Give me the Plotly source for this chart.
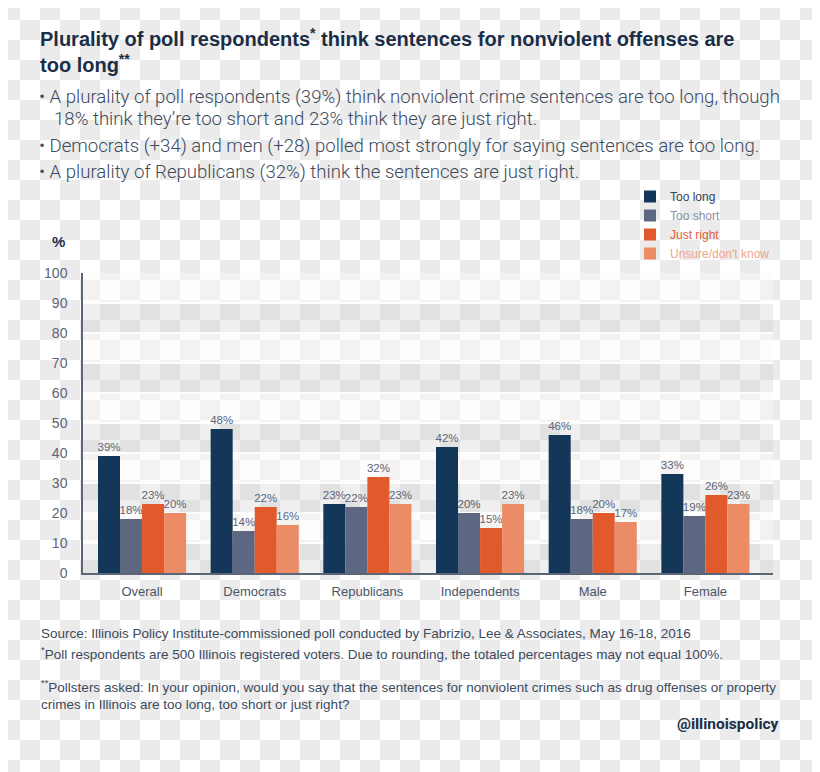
import zlib, struct, base64
import plotly.graph_objects as go

# ---------------- data ----------------
categories = ["Overall", "Democrats", "Republicans", "Independents", "Male", "Female"]
too_long = [39, 48, 23, 42, 46, 33]
too_short = [18, 14, 22, 20, 18, 19]
just_right = [23, 22, 32, 15, 20, 26]
unsure = [20, 16, 23, 23, 17, 23]
series_names = ["Too long", "Too short", "Just right", "Unsure/don't know"]
y_ticks = [0, 10, 20, 30, 40, 50, 60, 70, 80, 90, 100]

# ---------------- style ----------------
OFF = 8                      # page body margin
W, H = 820 - OFF, 772 - OFF
L, R, T, B = 83 - OFF, 47, 273 - OFF, 199
bar_colors = ["#143659", "#5e6781", "#e05a2c", "#eb8c67"]
legend_text_colors = ["#34435a", "#8a91a3", "#e0603a", "#eda58a"]
dark = "#1b2e47"
body = "#3c4a5c"
tick_col = "#5b6478"
SANS = "Liberation Sans, Arial, sans-serif"
ROBOTO = "Roboto, Liberation Sans, sans-serif"


def checker_png(w, h, cell, off, c_even, c_odd):
    raw = bytearray()
    for yy in range(h):
        r = (yy + off) // cell
        row = bytearray([0])
        for xx in range(w):
            c = c_even if (((xx + off) // cell) + r) % 2 == 0 else c_odd
            row += bytes(c)
        raw += row

    def chunk(tag, data):
        return struct.pack(">I", len(data)) + tag + data + struct.pack(">I", zlib.crc32(tag + data) & 0xffffffff)
    png = b"\x89PNG\r\n\x1a\n" + chunk(b"IHDR", struct.pack(">IIBBBBB", w, h, 8, 2, 0, 0, 0))
    png += chunk(b"IDAT", zlib.compress(bytes(raw), 9)) + chunk(b"IEND", b"")
    return "data:image/png;base64," + base64.b64encode(png).decode()


def px(x_page):
    return (x_page - OFF - L) / (W - L - R)


def py(y_page):
    return (H - B - (y_page - OFF)) / (H - T - B)


fig = go.Figure()
for name, vals, col, tcol in zip(series_names, [too_long, too_short, just_right, unsure], bar_colors, legend_text_colors):
    fig.add_trace(go.Bar(
        x=categories, y=vals,
        name=f'<span style="color:{tcol}">{name}</span>',
        marker=dict(color=col, line=dict(width=0)),
        text=[f"{v}%" for v in vals], textposition="outside",
        textfont=dict(size=11.5, color=tick_col, family=SANS),
        constraintext="none", cliponaxis=False,
        hovertemplate=name + ": %{y}%<extra>%{x}</extra>",
    ))

# alternating horizontal bands of the plot area
shapes = []
for i, lo in enumerate(y_ticks[:-1]):
    fill = "rgba(205,205,205,0.32)" if i % 2 == 0 else "rgba(255,251,248,0.45)"
    shapes.append(dict(type="rect", xref="paper", yref="y", x0=0, x1=1, y0=lo, y1=lo + 10,
                       fillcolor=fill, line=dict(width=0), layer="below"))

annotations = []


def txt(text, x, y, size, color, family=SANS, xanchor="left", weight=None):
    f = dict(size=size, color=color, family=family)
    if weight:
        f["weight"] = weight
    annotations.append(dict(text=text, x=px(x), y=py(y), xref="paper", yref="paper",
                            xanchor=xanchor, yanchor="middle", showarrow=False, font=f))


txt("<b>Plurality of poll respondents<sup>*</sup> think sentences for nonviolent offenses are</b>", 38, 37, 20, dark)
txt("<b>too long<sup>**</sup></b>", 38, 63, 20, dark)
bullets = [
    ("• A plurality of poll respondents (39%) think nonviolent crime sentences are too long, though", 37, 97),
    ("18% think they’re too short and 23% think they are just right.", 52, 119),
    ("• Democrats (+34) and men (+28) polled most strongly for saying sentences are too long.", 37, 146),
    ("• A plurality of Republicans (32%) think the sentences are just right.", 37, 172),
]
for t, x, y in bullets:
    txt(t, x, y, 18.6, body, family=ROBOTO, weight=300)

txt("<b>%</b>", 50, 241, 15, dark)

footer = [
    ("Source: Illinois Policy Institute-commissioned poll conducted by Fabrizio, Lee & Associates, May 16-18, 2016", 633),
    ("<sup>*</sup>Poll respondents are 500 Illinois registered voters. Due to rounding, the totaled percentages may not equal 100%.", 653),
    ("<sup>**</sup>Pollsters asked: In your opinion, would you say that the sentences for nonviolent crimes such as drug offenses or property", 686),
    ("crimes in Illinois are too long, too short or just right?", 704),
]
for t, y in footer:
    txt(t, 39, y, 13.5, body)
txt("<b>@illinoispolicy</b>", 781, 724, 15.5, dark, xanchor="right", family=ROBOTO)

fig.update_layout(
    width=W, height=H,
    margin=dict(l=L, r=R, t=T, b=B, pad=0),
    paper_bgcolor="white", plot_bgcolor="rgba(0,0,0,0)",
    barmode="group", bargap=0.218, bargroupgap=0,
    font=dict(family=SANS, color=tick_col),
    images=[dict(source=checker_png(W, H, 20, OFF, (235, 235, 235), (255, 255, 255)),
                 xref="paper", yref="paper", x=-L / (W - L - R), y=(H - B) / (H - T - B),
                 sizex=W / (W - L - R), sizey=H / (H - T - B),
                 xanchor="left", yanchor="top", sizing="stretch", layer="below")],
    shapes=shapes,
    annotations=annotations,
    showlegend=True,
    legend=dict(x=px(630), y=py(182), xanchor="left", yanchor="top", bgcolor="rgba(0,0,0,0)",
                font=dict(size=12, family=SANS), tracegroupgap=0, itemclick=False, itemdoubleclick=False),
    xaxis=dict(range=[-0.524, 5.6], showgrid=False, showline=True, linecolor="#5b6578", linewidth=1.5,
               ticks="", tickfont=dict(size=13, color="#4a5568"), ticklabelstandoff=6, zeroline=False),
    yaxis=dict(range=[0, 100], tickvals=y_ticks, showgrid=True, gridcolor="rgba(255,255,255,0.9)", gridwidth=2,
               showline=True, linecolor="#5b6578", linewidth=1.5, ticks="", zeroline=False,
               tickfont=dict(size=14, color=tick_col), ticklabelstandoff=11),
)

fig.write_html("out.html")
